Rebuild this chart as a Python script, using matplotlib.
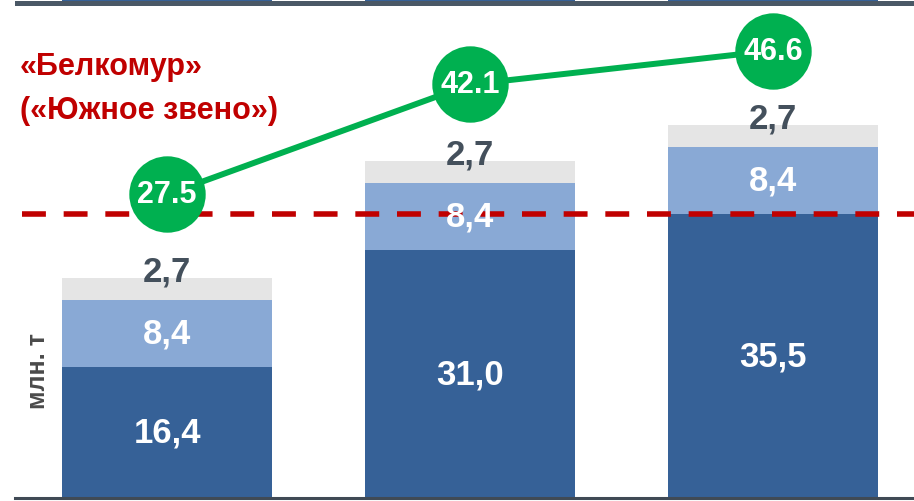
import matplotlib
matplotlib.use("Agg")
import matplotlib.pyplot as plt
from matplotlib import font_manager
from matplotlib.patches import Rectangle
import numpy as np

# ---- data ----
categories = ["A", "B", "C"]
base_vals = [16.4, 31.0, 35.5]
mid_vals = [8.4, 8.4, 8.4]
top_vals = [2.7, 2.7, 2.7]
line_vals = [27.5, 42.1, 46.6]
threshold = 35.5
title_lines = ["«Белкомур»", "(«Южное звено»)"]
unit_label = "млн. т"

names = {f.name for f in font_manager.fontManager.ttflist}
FONT = "Liberation Sans Narrow" if "Liberation Sans Narrow" in names else "Liberation Sans"
plt.rcParams["font.family"] = [FONT, "DejaVu Sans"]

C_DARK = "#366197"
C_LIGHT = "#89A9D5"
C_GRAY = "#E5E5E5"
C_TXT = "#44505C"
C_RED = "#C00000"
C_GREEN = "#00B050"

W, H = 914, 502
fig = plt.figure(figsize=(W / 100, H / 100), dpi=100)
ax = fig.add_axes([0, 0, 1, 1])
ax.set_axis_off()

x = np.arange(len(categories))
px_unit = 303.0
cx0 = 167.0
ax.set_xlim(-cx0 / px_unit, (W - cx0) / px_unit)
yscale = 8.0
ybase = 3.0
ax.set_ylim(-ybase / yscale, (H - ybase) / yscale)
bw = 210 / px_unit

base = np.array(base_vals)
mid = np.array(mid_vals)
top = np.array(top_vals)

ax.bar(x, base, width=bw, color=C_DARK, zorder=2)
ax.bar(x, mid, bottom=base, width=bw, color=C_LIGHT, zorder=2)
ax.bar(x, top, bottom=base + mid, width=bw, color=C_GRAY, zorder=2)

# threshold dashed line
ln = ax.axhline(threshold, xmin=22 / W, xmax=1, color=C_RED, lw=4.0, zorder=3)
ln.set_dashes((4.3, 3.2))
ln.set_dash_capstyle("butt")

fs = 25
for i in range(len(x)):
    ax.text(x[i], base[i] / 2, f"{base[i]:.1f}".replace(".", ","), color="white",
            ha="center", va="center", fontsize=fs, fontweight="bold", zorder=5)
    ax.text(x[i], base[i] + mid[i] / 2, f"{mid[i]:.1f}".replace(".", ","), color="white",
            ha="center", va="center", fontsize=fs, fontweight="bold", zorder=5)
    ax.text(x[i], base[i] + mid[i] + top[i] - 0.3, f"{top[i]:.1f}".replace(".", ","), color=C_TXT,
            ha="center", va="baseline", fontsize=fs, fontweight="bold", zorder=5)

# line on secondary scale
ax2 = fig.add_axes([0, 0, 1, 1], sharex=ax)
ax2.set_axis_off()
ax2.patch.set_alpha(0)
lslope = 7.53
lint = 99.5
ax2.set_ylim(-lint / lslope, (H - lint) / lslope)
ax2.plot(x, line_vals, color=C_GREEN, lw=4.3, zorder=3, solid_capstyle="butt")
ax2.plot(x, line_vals, "o", ms=55, color=C_GREEN, mec=C_GREEN, mew=0, zorder=4)
for xi, v in zip(x, line_vals):
    ax2.text(xi, v, f"{v:.1f}", color="white", ha="center", va="center",
             fontsize=22, fontweight="bold", zorder=6)

# title text
ax.text(20 / W, 1 - 67 / H, title_lines[0], transform=ax.transAxes, color=C_RED,
        fontsize=22, fontweight="bold", ha="left", va="center")
ax.text(20 / W, 1 - 111 / H, title_lines[1], transform=ax.transAxes, color=C_RED,
        fontsize=22, fontweight="bold", ha="left", va="center")

# unit label
ax.text(38 / W, 1 - 371 / H, unit_label, transform=ax.transAxes, color="#4A4A4A",
        fontsize=18, fontweight="bold", rotation=90, ha="center", va="center")

# baseline axis line
ax.axhline(0, xmin=15 / W, xmax=1, color="#404A55", lw=2.2, zorder=4)

# top decorative strip (cropped slide element)
fig.add_artist(Rectangle((15 / W, 1 - 6.5 / H), 1, 4.5 / H, transform=fig.transFigure,
                         color="#4A5866", lw=0))
for xi in x:
    l = (cx0 + xi * px_unit - 105) / W
    fig.add_artist(Rectangle((l, 1 - 2 / H), 210 / W, 2 / H, transform=fig.transFigure,
                             color=C_DARK, lw=0))

fig.savefig("out.png", dpi=100)
